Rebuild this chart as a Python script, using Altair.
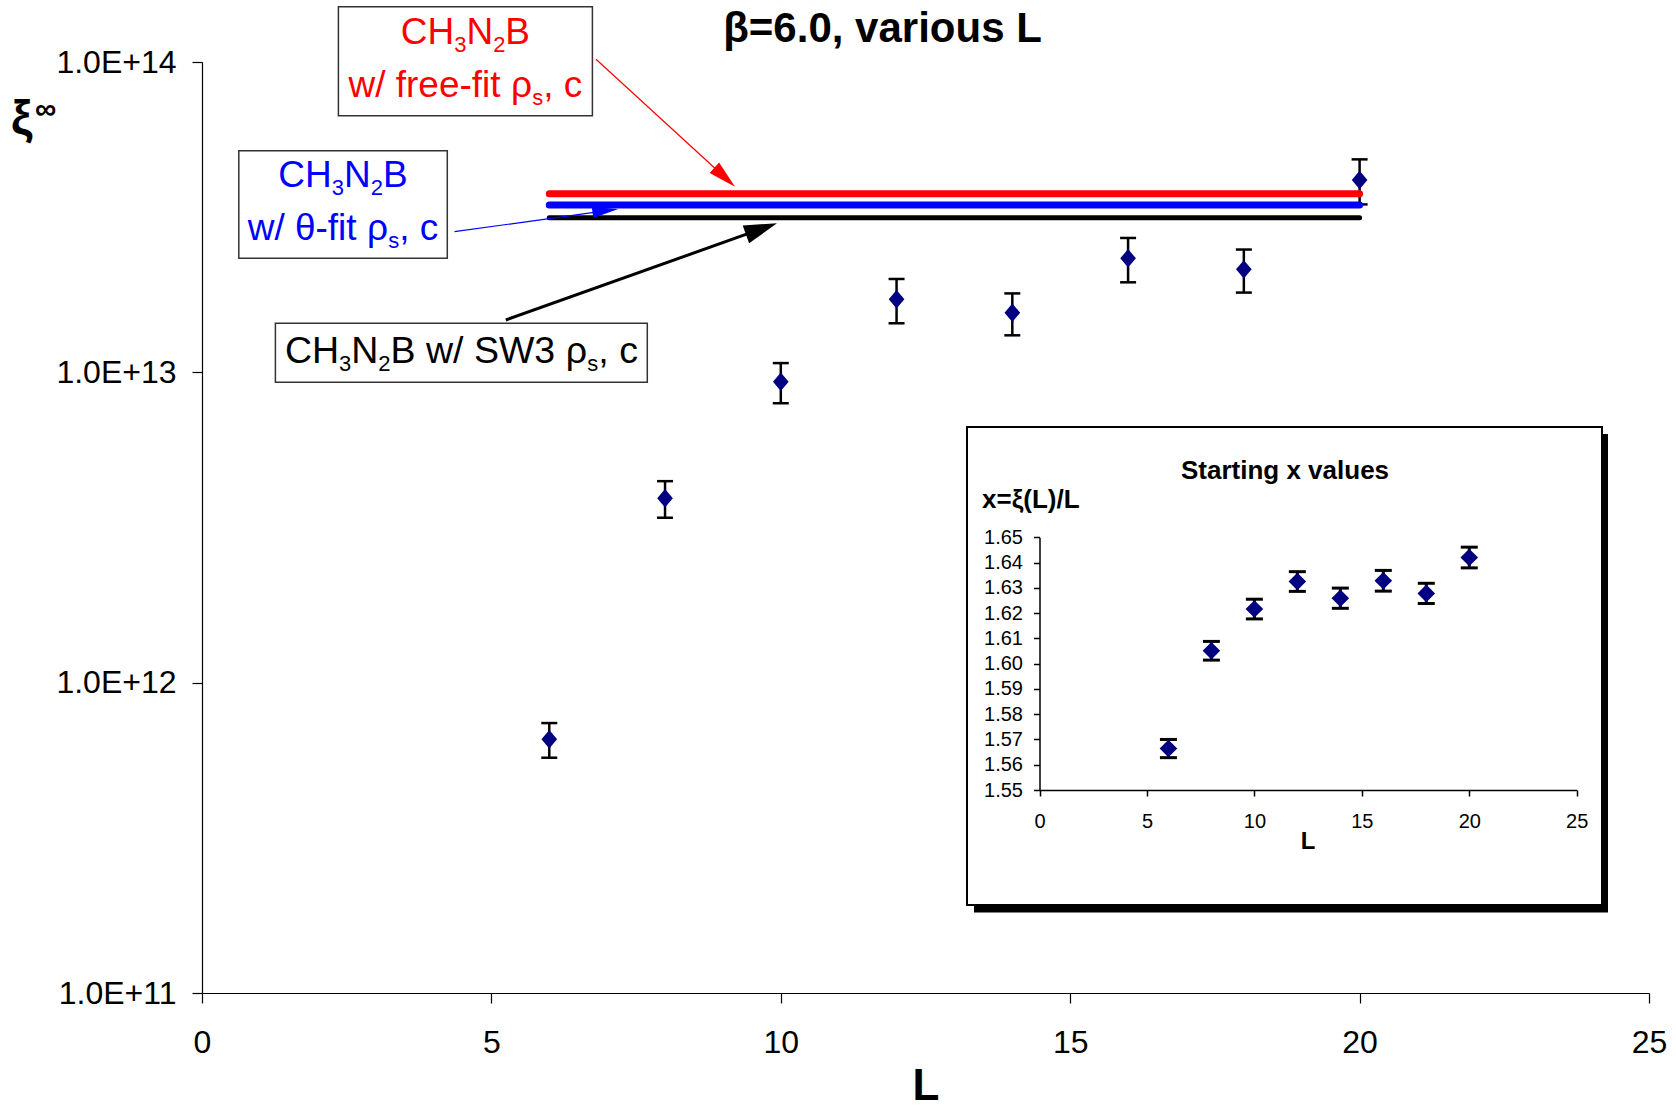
import math
import altair as alt
import pandas as pd

# ---------------- data ----------------
L_vals = [6, 8, 10, 12, 14, 16, 18, 20]
xi_inf = [6.57e11, 3.93e12, 9.33e12, 1.719e13, 1.556e13, 2.33e13, 2.147e13, 4.166e13]
xi_err = [0.84e11, 0.53e12, 1.38e12, 2.8e12, 2.4e12, 3.8e12, 3.4e12, 6.9e12]

fit_values = [3.76e13, 3.46e13, 3.15e13]   # free-fit, theta-fit, SW3
fit_L_range = [6, 20]

x_start = [1.5664, 1.6051, 1.6216, 1.6325, 1.6259, 1.6328, 1.6278, 1.6420]
x_start_err = [0.0036, 0.0037, 0.0039, 0.0039, 0.0040, 0.0041, 0.0040, 0.0041]

x_ticks = [0, 5, 10, 15, 20, 25]
y_ticks = [1e11, 1e12, 1e13, 1e14]
inset_y_ticks = [1.55, 1.56, 1.57, 1.58, 1.59, 1.60, 1.61, 1.62, 1.63, 1.64, 1.65]

title_text = "β=6.0, various L"
inset_title = "Starting x values"
inset_ylabel = "x=ξ(L)/L"

# ---------------- layout ----------------
FONT = "Liberation Sans, Arial, Helvetica, sans-serif"
PL, PT = 202, 62          # plot-area origin on the page
PW, PH = 1447, 931        # plot-area size
PR = 1676 - PL - PW
PB = 1110 - PT - PH


def px(x):
    return x - PL


def py(y):
    return y - PT


one = pd.DataFrame({"k": [0]})

# Arial advance widths (1/1000 em) for the annotation labels
ADV = {' ': 278, ',': 278, '-': 333, '/': 278, '2': 556, '3': 556, 'B': 667,
       'C': 722, 'H': 722, 'N': 722, 'S': 667, 'W': 944, 'c': 500, 'e': 556,
       'f': 278, 'i': 222, 'r': 333, 's': 500, 't': 278, 'w': 722,
       'ρ': 577, 'θ': 556}


def text_width(s, size):
    return sum(ADV.get(ch, 556) for ch in s) * size / 1000.0


def text_mark(x, y, s, size, color="black", weight="normal", align="left",
              baseline="alphabetic"):
    return alt.Chart(one).mark_text(
        text=s, fontSize=size, font=FONT, fontWeight=weight, color=color,
        align=align, baseline=baseline
    ).encode(x=alt.value(px(x)), y=alt.value(py(y)))


def rect_mark(x0, y0, x1, y1, fill, stroke, sw):
    return alt.Chart(one).mark_rect(
        fill=fill, stroke=stroke, strokeWidth=sw, opacity=1
    ).encode(x=alt.value(px(x0)), x2=alt.value(px(x1)),
             y=alt.value(py(y0)), y2=alt.value(py(y1)))


def arrow(x0, y0, x1, y1, color, sw, head_len, head_half):
    dx, dy = x1 - x0, y1 - y0
    d = math.hypot(dx, dy)
    ux, uy = dx / d, dy / d
    bx, by = x1 - ux * head_len * 0.8, y1 - uy * head_len * 0.8
    shaft = alt.Chart(one).mark_rule(color=color, strokeWidth=sw).encode(
        x=alt.value(px(x0)), y=alt.value(py(y0)),
        x2=alt.value(px(bx)), y2=alt.value(py(by)))
    hw = head_half / head_len
    path = f"M0,0L{hw:.3f},1L{-hw:.3f},1Z"
    ang = math.degrees(math.atan2(dx, -dy)) % 360
    head = alt.Chart(one).mark_point(
        shape=path, filled=True, size=(2 * head_len) ** 2, angle=ang,
        color=color, opacity=1, strokeWidth=0
    ).encode(x=alt.value(px(x1)), y=alt.value(py(y1)))
    return [shaft, head]


def label_runs(parts, cx, base_y, color, size=37, sub_size=22, sub_drop=8):
    sizes = [sub_size if sub else size for _, sub in parts]
    widths = [text_width(t, s) for (t, _), s in zip(parts, sizes)]
    x = cx - sum(widths) / 2
    out = []
    for (t, sub), s, w in zip(parts, sizes, widths):
        out.append(text_mark(x, base_y + (sub_drop if sub else 0), t, s, color))
        x += w
    return out


# ---------------- main plot ----------------
main_df = pd.DataFrame({
    "L": L_vals,
    "xi": xi_inf,
    "lo": [v - e for v, e in zip(xi_inf, xi_err)],
    "hi": [v + e for v, e in zip(xi_inf, xi_err)],
})

xs = alt.Scale(domain=[0, 25], nice=False, zero=False)
ys = alt.Scale(type="log", domain=[1e11, 1e14], nice=False)

axis_common = dict(title=None, grid=False, domainColor="black", tickColor="black",
                   labelColor="black", labelFont=FONT, domainWidth=1.2,
                   tickWidth=1.2, labelFontSize=32, labelFlush=False,
                   labelOverlap=False)
x_axis = alt.Axis(values=x_ticks, orient="bottom", tickSize=10, labelPadding=24,
                  **axis_common)
y_axis = alt.Axis(values=y_ticks, orient="left", tickSize=10, labelPadding=16,
                  labelExpr="upper(format(datum.value, '.1e'))", **axis_common)

X = alt.X("L:Q", scale=xs, axis=x_axis)
base = alt.Chart(main_df)

err = base.mark_rule(color="black", strokeWidth=2.5).encode(
    x=X, y=alt.Y("lo:Q", scale=ys, axis=y_axis), y2="hi:Q")
cap_lo = base.mark_tick(orient="horizontal", size=16, thickness=2.5,
                        color="black", opacity=1).encode(
    x=X, y=alt.Y("lo:Q", scale=ys, axis=y_axis))
cap_hi = base.mark_tick(orient="horizontal", size=16, thickness=2.5,
                        color="black", opacity=1).encode(
    x=X, y=alt.Y("hi:Q", scale=ys, axis=y_axis))
pts = base.mark_point(shape="M0,-1L0.85,0L0,1L-0.85,0Z", filled=True, size=340,
                      color="#000080", opacity=1, strokeWidth=0).encode(
    x=X, y=alt.Y("xi:Q", scale=ys, axis=y_axis))

fit_styles = [("#ff0000", 7), ("#0000ff", 7), ("#000000", 5)]
fit_lines = []
for val, (col, w) in zip(fit_values, fit_styles):
    fdf = pd.DataFrame({"L0": [fit_L_range[0]], "L1": [fit_L_range[1]], "v": [val]})
    fit_lines.append(
        alt.Chart(fdf).mark_rule(color=col, strokeWidth=w, strokeCap="round").encode(
            x=alt.X("L0:Q", scale=xs, axis=x_axis), x2="L1:Q",
            y=alt.Y("v:Q", scale=ys, axis=y_axis)))

# titles
deco = [
    text_mark(882.5, 41.7, title_text, 42, weight="bold", align="center"),
    text_mark(926, 1100, "L", 44, weight="bold", align="center"),
    text_mark(11, 134, "ξ", 48, weight="bold"),
    text_mark(35, 119, "∞", 30, weight="bold"),
]

# annotation boxes
BOX_STROKE = "#333333"
deco.append(rect_mark(338.4, 6.7, 592.4, 115.7, "white", BOX_STROKE, 1.5))
deco.append(rect_mark(238.8, 150.7, 447.3, 258.3, "white", BOX_STROKE, 1.5))
deco.append(rect_mark(275.4, 323.3, 647.3, 382.3, "white", BOX_STROKE, 1.5))

formula = [("CH", 0), ("3", 1), ("N", 0), ("2", 1), ("B", 0)]
deco += label_runs(formula, 465.4, 44, "#ff0000")
deco += label_runs([("w/ free-fit ρ", 0), ("s", 1), (", c", 0)], 465.4, 97.3, "#ff0000")
deco += label_runs(formula, 343, 187.3, "#0000ff")
deco += label_runs([("w/ θ-fit ρ", 0), ("s", 1), (", c", 0)], 343, 240, "#0000ff")
deco += label_runs([("CH", 0), ("3", 1), ("N", 0), ("2", 1), ("B w/ SW3 ρ", 0),
                    ("s", 1), (", c", 0)], 461.4, 363.3, "black", size=37.5)

# arrows pointing at the three fitted levels
deco += arrow(596, 59.3, 735, 186.7, "#ff0000", 1.2, 28, 7)
deco += arrow(454.5, 231.7, 618.3, 209, "#0000ff", 1.2, 26, 5.5)
deco += arrow(505.8, 320, 777, 223.3, "black", 3, 33, 9.5)

main = alt.layer(err, cap_lo, cap_hi, *fit_lines, pts, *deco)

# ---------------- inset ----------------
ins_df = pd.DataFrame({
    "L": L_vals,
    "x": x_start,
    "lo": [v - e for v, e in zip(x_start, x_start_err)],
    "hi": [v + e for v, e in zip(x_start, x_start_err)],
})

IX0, IX1 = 1039.5, 1576.7     # inset x-axis ends on the page
IY0, IY1 = 790.0, 537.3       # inset y-axis ends on the page
ixs = alt.Scale(domain=[0, 25], range=[px(IX0), px(IX1)], nice=False, zero=False)
iys = alt.Scale(domain=[1.55, 1.65], range=[py(IY0), py(IY1)], nice=False, zero=False)

ins_axis_common = dict(title=None, grid=False, domainColor="black", tickColor="black",
                       labelColor="black", labelFont=FONT, domainWidth=1.5,
                       tickWidth=1.5, labelFontSize=20, tickSize=6, zindex=1,
                       labelFlush=False, labelOverlap=False)
ix_axis = alt.Axis(values=x_ticks, orient="bottom", offset=py(IY0) - PH,
                   labelPadding=15, **ins_axis_common)
iy_axis = alt.Axis(values=inset_y_ticks, orient="left", offset=-px(IX0),
                   format=".2f", labelPadding=11, **ins_axis_common)

IX = alt.X("L:Q", scale=ixs, axis=ix_axis)
ibase = alt.Chart(ins_df)
ierr = ibase.mark_rule(color="black", strokeWidth=3).encode(
    x=IX, y=alt.Y("lo:Q", scale=iys, axis=iy_axis), y2="hi:Q")
icap_lo = ibase.mark_tick(orient="horizontal", size=17, thickness=3,
                          color="black", opacity=1).encode(
    x=IX, y=alt.Y("lo:Q", scale=iys, axis=iy_axis))
icap_hi = ibase.mark_tick(orient="horizontal", size=17, thickness=3,
                          color="black", opacity=1).encode(
    x=IX, y=alt.Y("hi:Q", scale=iys, axis=iy_axis))
ipts = ibase.mark_point(shape="diamond", filled=True, size=310, color="#000080",
                        opacity=1, strokeWidth=0).encode(
    x=IX, y=alt.Y("x:Q", scale=iys, axis=iy_axis))

inset_frame = [
    rect_mark(974, 434, 1608, 912.5, "black", "black", 0),
    rect_mark(967, 427, 1602, 905, "white", "black", 2),
    text_mark(1285, 479.3, inset_title, 26, weight="bold", align="center"),
    text_mark(982, 508.3, inset_ylabel, 26, weight="bold"),
    text_mark(1308, 849.3, "L", 24, weight="bold", align="center"),
]

inset = alt.layer(*inset_frame, ierr, icap_lo, icap_hi, ipts)

chart = alt.layer(main, inset).resolve_scale(
    x="independent", y="independent"
).properties(
    width=PW, height=PH,
    padding={"left": PL, "top": PT, "right": PR, "bottom": PB},
    autosize=alt.AutoSizeParams(type="none"),
    background="white",
).configure_view(stroke=None)

chart.save("out.html", embed_options={"renderer": "svg", "actions": False})
